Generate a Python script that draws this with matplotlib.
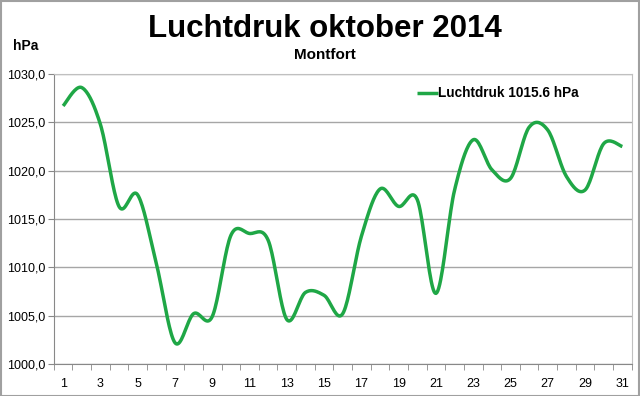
import numpy as np
import matplotlib
matplotlib.use('Agg')
import matplotlib.pyplot as plt
from matplotlib.patches import Rectangle

# Daily air pressure, Montfort, October 2014 (hPa)
days = list(range(1, 32))
pressure = [1026.7, 1028.6, 1024.8, 1016.3, 1017.5, 1010.4, 1002.2, 1005.2,
            1004.9, 1013.3, 1013.5, 1012.8, 1004.6, 1007.4, 1007.1, 1005.2,
            1013.2, 1018.1, 1016.3, 1017.0, 1007.3, 1018.0, 1023.2, 1020.1,
            1019.2, 1024.5, 1024.2, 1019.4, 1018.0, 1022.8, 1022.5]
x_labels = [str(d) for d in range(1, 32, 2)]
y_ticks = [1000, 1005, 1010, 1015, 1020, 1025, 1030]


def smooth(x, y, n=20):
    # Excel-style smoothed line (Catmull-Rom through the points)
    x = np.asarray(x, float)
    y = np.asarray(y, float)
    px = np.concatenate([[x[0]], x, [x[-1]]])
    py = np.concatenate([[y[0]], y, [y[-1]]])
    xs, ys = [], []
    t = np.linspace(0, 1, n, endpoint=False)
    for i in range(1, len(px) - 2):
        p0, p1, p2, p3 = px[i - 1], px[i], px[i + 1], px[i + 2]
        q0, q1, q2, q3 = py[i - 1], py[i], py[i + 1], py[i + 2]
        c1x, c1y = p1 + (p2 - p0) / 6, q1 + (q2 - q0) / 6
        c2x, c2y = p2 - (p3 - p1) / 6, q2 - (q3 - q1) / 6
        a = (1 - t) ** 3
        b = 3 * (1 - t) ** 2 * t
        c = 3 * (1 - t) * t ** 2
        d = t ** 3
        xs.append(a * p1 + b * c1x + c * c2x + d * p2)
        ys.append(a * q1 + b * c1y + c * c2y + d * q2)
    xs.append([x[-1]])
    ys.append([y[-1]])
    return np.concatenate(xs), np.concatenate(ys)


plt.rcParams['font.family'] = ['Liberation Sans', 'DejaVu Sans']

fig = plt.figure(figsize=(6.4, 3.96), dpi=100)
ax = fig.add_axes([0.084, 0.081, 0.903, 0.732])

sx, sy = smooth(days, pressure)
ax.plot(sx, sy, color='#1fa746', lw=2.5, solid_capstyle='butt',
        label='Luchtdruk 1015.6 hPa')

ax.set_xlim(0.5, 31.5)
ax.set_ylim(1000, 1030)
ax.set_yticks(y_ticks)
ax.set_yticklabels([f'{v:.1f}'.replace('.', ',') for v in y_ticks])
ax.set_xticks(range(1, 32, 2))
ax.set_xticklabels(x_labels)
ax.set_xticks(np.arange(0.5, 32, 1), minor=True)
ax.tick_params(axis='x', which='major', length=0, pad=10, labelsize=9)
ax.tick_params(axis='x', which='minor', length=4, color='#888888')
ax.tick_params(axis='y', length=4, color='#888888', labelsize=9, pad=2)
ax.yaxis.grid(True, color='#a6a6a6', lw=1)
ax.set_axisbelow(True)
for s in ax.spines.values():
    s.set_color('#c0c0c0')
ax.spines['left'].set_color('#888888')
ax.spines['bottom'].set_color('#888888')

leg = ax.legend(loc='upper right', bbox_to_anchor=(0.93, 1.0), frameon=False,
                prop={'weight': 'bold', 'size': 9.8}, handlelength=1.5,
                handletextpad=0.05)

fig.text(0.507, 0.928, 'Luchtdruk oktober 2014', ha='center', va='center',
         fontsize=22.5, fontweight='bold')
fig.text(0.507, 0.86, 'Montfort', ha='center', va='center',
         fontsize=11, fontweight='bold')
fig.text(0.04, 0.885, 'hPa', ha='center', va='center',
         fontsize=10, fontweight='bold')

fig.patches.append(Rectangle((0.001, 0.001), 0.997, 0.997, transform=fig.transFigure,
                             fill=False, edgecolor='#a0a0a0', lw=1.5))

fig.savefig('out.png', dpi=100)
